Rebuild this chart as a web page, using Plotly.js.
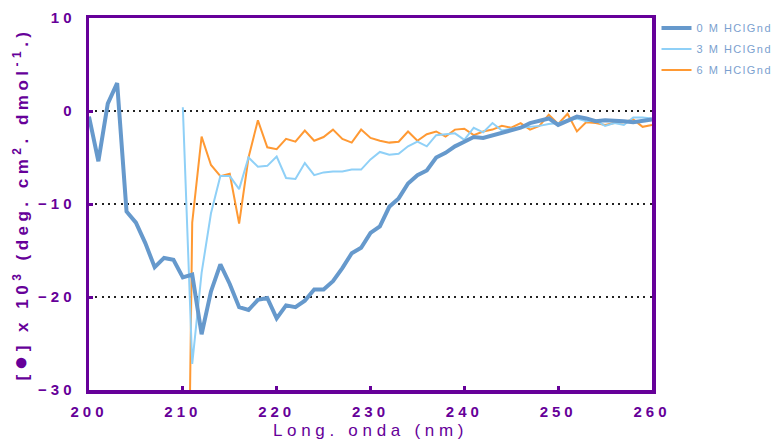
<!DOCTYPE html>
<html>
<head>
<meta charset="utf-8">
<script src="https://cdn.plot.ly/plotly-3.0.1.min.js"></script>
<style>
  html, body { margin: 0; padding: 0; background: #fff; }
  #chart { width: 774px; height: 442px; }
  .xtick text, .ytick text { letter-spacing: 4px; }
  .g-xtitle text { letter-spacing: 4.7px; }
  .g-ytitle text { letter-spacing: 4.5px; }
  .legendtext { letter-spacing: 1.5px; }
</style>
</head>
<body>
<div id="chart"></div>
<script>
// Wavelength (nm)
const wavelengths = [200,201,202,203,204,205,206,207,208,209,210,211,212,213,214,215,216,217,218,219,220,
  221,222,223,224,225,226,227,228,229,230,231,232,233,234,235,236,237,238,239,240,
  241,242,243,244,245,246,247,248,249,250,251,252,253,254,255,256,257,258,259,260];

// 0 M HClGnd
const series0M = [-0.6,-5.4,0.8,3.0,-10.8,-12.0,-14.2,-16.8,-15.8,-16.0,-17.9,-17.6,-24.0,-19.4,-16.5,-18.6,-21.1,-21.4,-20.3,-20.1,-22.3,
  -20.9,-21.1,-20.4,-19.2,-19.2,-18.3,-16.9,-15.3,-14.7,-13.1,-12.4,-10.3,-9.4,-7.8,-6.9,-6.4,-5.0,-4.5,-3.8,-3.3,
  -2.8,-2.9,-2.6,-2.3,-2.1,-1.8,-1.3,-1.0,-0.8,-1.5,-1.1,-0.6,-0.8,-1.1,-1.0,-1.0,-1.1,-1.2,-1.1,-0.9];

// 3 M HClGnd (no data below 210 nm)
const series3M = [null,null,null,null,null,null,null,null,null,null,0.4,-27.2,-17.4,-11.0,-7.0,-7.0,-8.4,-5.0,-6.0,-5.9,-4.9,
  -7.2,-7.3,-5.6,-6.9,-6.6,-6.5,-6.5,-6.3,-6.3,-5.2,-4.4,-4.7,-4.6,-3.8,-3.3,-3.8,-2.6,-2.5,-2.4,-3.1,
  -1.8,-2.3,-1.3,-2.1,-1.9,-1.8,-1.7,-1.6,-1.4,-1.3,-1.0,-0.8,-1.1,-1.0,-1.6,-1.3,-1.5,-0.7,-0.7,-0.8];

// 6 M HClGnd (no data below 210 nm)
const series6M = [null,null,null,null,null,null,null,null,null,null,-90,-12.0,-2.75,-5.8,-7.0,-6.75,-12.1,-5.0,-1.0,-3.9,-4.1,
  -3.0,-3.3,-2.1,-3.2,-2.8,-2.0,-3.0,-3.4,-2.0,-2.9,-3.2,-3.4,-3.3,-2.2,-3.2,-2.5,-2.2,-2.75,-2.0,-1.9,
  -2.6,-2.2,-2.0,-1.6,-1.8,-1.3,-2.0,-1.6,-0.4,-1.4,-0.3,-2.2,-1.2,-1.3,-1.5,-1.3,-1.2,-0.9,-1.7,-1.5];

const seriesNames = ['0 M HClGnd', '3 M HClGnd', '6 M HClGnd'];

const purple = '#660099';

const traces = [
  { x: wavelengths, y: series6M, name: seriesNames[2], legendgroup: 'g6', legendrank: 3, type: 'scatter', mode: 'lines',
    line: { color: '#ff9933', width: 2 }, connectgaps: false },
  { x: wavelengths, y: series3M, name: seriesNames[1], legendgroup: 'g3', legendrank: 2, type: 'scatter', mode: 'lines',
    line: { color: '#8fd0f7', width: 2 }, connectgaps: false },
  { x: wavelengths, y: series0M, name: seriesNames[0], legendgroup: 'g0', legendrank: 1, type: 'scatter', mode: 'lines',
    line: { color: '#6699cc', width: 4 } }
];

const layout = {
  width: 774, height: 442,
  margin: { l: 89, r: 122, t: 18, b: 52, pad: 0, autoexpand: false },
  paper_bgcolor: '#ffffff', plot_bgcolor: '#ffffff',
  font: { family: 'Liberation Sans, Arial, sans-serif', color: purple },
  showlegend: true,
  legend: {
    x: 1.008, y: 1.012, xanchor: 'left', yanchor: 'top',
    traceorder: 'grouped',
    font: { size: 11, color: '#7b9fcf', family: 'Liberation Sans, Arial, sans-serif' },
    bgcolor: 'rgba(0,0,0,0)', borderwidth: 0,
    tracegroupgap: 2
  },
  xaxis: {
    range: [200, 260], dtick: 10, tick0: 200,
    showline: true, linecolor: purple, linewidth: 3.5, mirror: true,
    ticks: 'inside', ticklen: 4, tickwidth: 3, tickcolor: purple,
    showgrid: false, zeroline: false,
    tickfont: { size: 15, weight: 'bold', color: purple },
    ticklabelstandoff: 5,
    title: { text: 'Long. onda (nm)', font: { size: 17, color: purple }, standoff: 6 },
    automargin: false
  },
  yaxis: {
    range: [-30, 10], dtick: 10, tick0: 0,
    showline: true, linecolor: purple, linewidth: 3.5, mirror: true,
    ticks: 'inside', ticklen: 4, tickwidth: 3, tickcolor: purple,
    showgrid: true, gridcolor: '#222222', gridwidth: 2, griddash: '2px,4.3px',
    zeroline: false,
    tickfont: { size: 15, weight: 'bold', color: purple },
    ticklabelstandoff: 7,
    title: { text: '[<span style="font-size:24px">●</span>] x 10<sup>3</sup> (deg. cm<sup>2</sup>. dmol<sup>-1</sup>.)', font: { size: 17, weight: 'bold', color: purple }, standoff: 6 },
    automargin: false
  }
};

Plotly.newPlot('chart', traces, layout, { staticPlot: true, displayModeBar: false });
</script>
</body>
</html>
